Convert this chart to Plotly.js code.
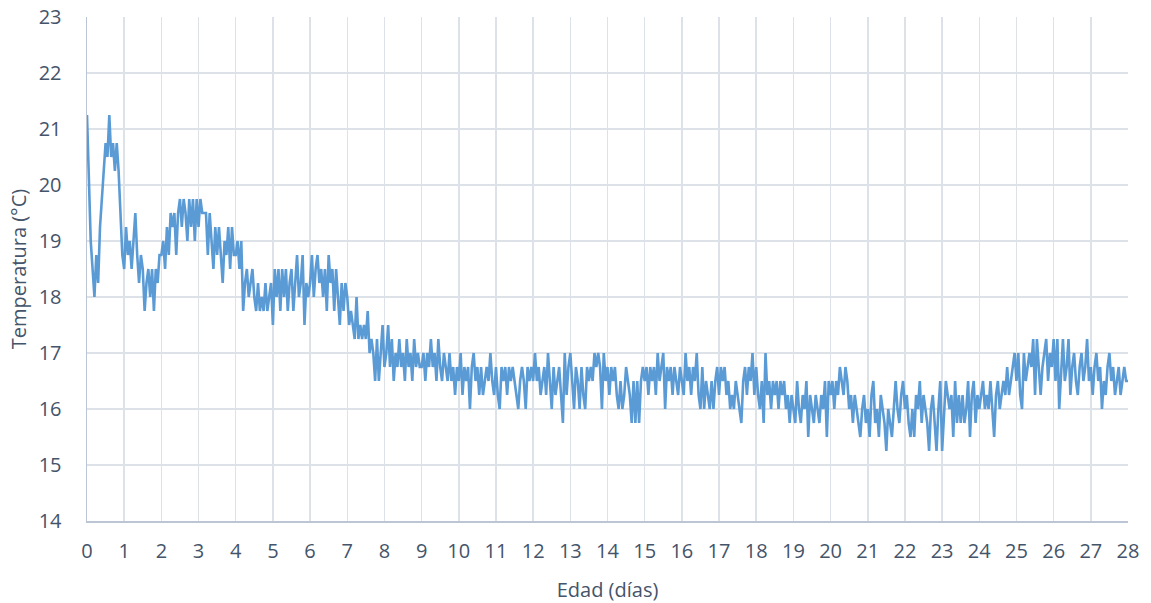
<!DOCTYPE html>
<html>
<head>
<meta charset="utf-8">
<script src="https://cdn.plot.ly/plotly-3.0.1.min.js"></script>
<style>
html,body{margin:0;padding:0;background:#fff;}
#chart{width:1151px;height:603px;}
</style>
</head>
<body>
<div id="chart"></div>
<script>
// Temperature readings (°C), one reading every 0.05 day
const startDay = 0;
const stepDays = 0.05;

const semana1 = [
  // day 0
  21.25,20.0,19.0,18.5,18.0,18.75,18.25,19.25,19.75,20.25,20.75,20.5,21.25,20.5,20.75,20.25,20.75,20.25,19.5,18.75,
  // day 1
  18.5,19.25,18.75,19.0,18.5,19.0,19.5,18.75,18.25,18.75,18.5,17.75,18.25,18.5,18.0,18.5,17.75,18.5,18.25,18.75,
  // day 2
  18.75,19.0,18.5,19.25,18.75,19.5,19.25,19.5,18.75,19.5,19.75,19.25,19.75,19.5,19.0,19.75,19.25,19.75,19.0,19.75,
  // day 3
  19.25,19.75,19.5,19.5,19.5,18.75,19.5,19.0,18.5,19.25,18.75,19.25,18.75,18.25,19.0,18.75,19.25,18.5,19.25,18.75,
  // day 4
  18.75,19.0,18.5,19.0,17.75,18.25,18.5,18.0,18.25,18.5,18.0,17.75,18.25,17.75,18.0,17.75,18.25,17.75,18.0,18.25,
  // day 5
  17.5,18.5,18.0,18.5,17.75,18.5,18.0,18.5,17.75,18.25,18.5,17.75,18.25,18.75,18.0,18.25,18.75,17.5,18.25,18.0,
  // day 6
  18.25,18.75,18.0,18.5,18.75,18.25,18.5,18.0,18.5,17.75,18.75,18.25,18.5,17.75,18.5,18.0,17.5,18.25,17.75,18.25
];
const semana2 = [
  // day 7
  18.0,17.5,17.75,17.5,17.25,18.0,17.25,17.5,17.25,17.5,17.25,17.75,17.0,17.25,17.0,16.5,17.25,16.5,17.0,17.5,
  // day 8
  16.75,17.0,17.5,16.75,17.25,16.5,17.0,16.75,17.25,16.75,17.0,16.5,17.25,16.75,17.0,16.5,17.25,16.75,17.0,16.75,
  // day 9
  16.75,17.0,16.5,17.0,16.75,17.25,16.75,17.0,16.5,17.25,16.75,16.5,17.0,16.75,16.5,17.0,16.5,16.75,16.25,16.75,
  // day 10
  16.5,17.0,16.25,16.75,16.5,16.75,16.0,16.75,17.0,16.5,16.75,16.25,16.75,16.25,16.5,16.75,16.5,17.0,16.5,16.25,
  // day 11
  16.75,16.25,16.0,16.75,16.5,16.75,16.25,16.75,16.5,16.75,16.5,16.25,16.0,16.5,16.75,16.5,16.0,16.75,16.5,16.75,
  // day 12
  16.5,17.0,16.5,16.75,16.25,16.5,16.75,16.25,17.0,16.5,16.0,16.75,16.25,16.5,16.75,16.25,15.75,17.0,16.25,16.75,
  // day 13
  17.0,16.5,16.0,16.75,16.5,16.0,16.75,16.25,16.0,16.75,16.5,16.75,16.5,17.0,16.75,17.0,16.75,16.0,17.0,16.5
];
const semana3 = [
  // day 14
  16.75,16.25,16.75,16.5,16.75,16.25,16.0,16.5,16.0,16.25,16.75,16.5,16.25,15.75,16.5,15.75,16.5,15.75,16.5,16.75,
  // day 15
  16.5,16.75,16.25,16.75,16.5,16.75,16.25,17.0,16.5,16.75,17.0,16.0,16.75,16.5,16.75,16.25,16.75,16.5,16.25,16.75,
  // day 16
  16.5,16.25,17.0,16.5,16.75,16.25,16.75,16.5,17.0,16.25,16.0,16.75,16.0,16.5,16.25,16.0,16.5,16.0,16.5,16.75,
  // day 17
  16.25,16.75,16.5,16.75,16.25,16.5,16.0,16.25,16.0,16.5,16.25,16.0,15.75,16.5,16.75,16.25,16.75,16.5,17.0,16.25,
  // day 18
  16.75,16.25,16.0,16.5,15.75,17.0,16.25,16.5,16.0,16.5,16.25,16.5,16.0,16.5,16.25,16.5,16.0,16.25,15.75,16.25,
  // day 19
  16.0,15.75,16.5,16.0,15.75,16.25,16.0,16.5,15.5,16.25,16.0,15.75,16.25,16.0,15.75,16.25,16.0,16.5,15.5,16.5,
  // day 20
  16.25,16.5,16.0,16.5,16.25,16.75,16.5,16.25,16.75,16.5,16.0,16.25,15.75,16.25,16.0,15.75,15.5,16.0,16.25,15.75
];
const semana4 = [
  // day 21
  16.0,15.5,16.25,16.5,15.75,16.0,15.5,16.25,16.0,15.75,15.25,16.0,15.75,15.5,16.0,16.5,16.0,15.75,16.25,16.5,
  // day 22
  16.0,16.25,15.75,15.5,16.0,15.5,16.25,16.0,16.5,15.75,16.25,16.0,15.75,15.25,16.0,16.25,15.75,15.25,16.0,16.5,
  // day 23
  15.25,16.0,16.5,16.25,16.0,16.25,15.5,16.5,15.75,16.25,15.75,16.25,15.75,16.0,16.5,15.5,16.25,16.5,15.75,16.25,
  // day 24
  16.0,16.25,16.5,16.0,16.25,16.0,16.5,16.0,15.5,16.25,16.5,16.0,16.25,16.5,16.25,16.75,16.25,16.5,16.75,17.0,
  // day 25
  16.5,17.0,16.25,16.0,17.0,16.5,16.75,17.0,16.75,17.25,16.25,17.25,16.75,16.25,16.75,17.0,17.25,16.5,17.0,16.75,
  // day 26
  17.25,16.5,17.25,16.0,16.75,17.25,16.5,16.75,17.25,16.25,16.75,17.0,16.5,16.25,16.75,17.0,16.5,16.75,17.25,16.5,
  // day 27
  16.75,16.25,16.75,17.0,16.5,16.75,16.0,16.5,16.25,16.75,17.0,16.5,16.75,16.25,16.5,16.75,16.25,16.5,16.75,16.5,
  // day 28
  16.5
];

const xTicks = [0,1,2,3,4,5,6,7,8,9,10,11,12,13,14,15,16,17,18,19,20,21,22,23,24,25,26,27,28];
const yTicks = [14,15,16,17,18,19,20,21,22,23];

const temperatura = semana1.concat(semana2, semana3, semana4);
const edad = temperatura.map((_, i) => +(startDay + i * stepDays).toFixed(4));

const textColor = '#44546A';
const fontFam = '"Open Sans", "Noto Sans", sans-serif';

const trace = {
  x: edad,
  y: temperatura,
  type: 'scatter',
  mode: 'lines',
  line: {color: '#5B9BD5', width: 2.6},
  hoverinfo: 'x+y'
};

const layout = {
  width: 1151,
  height: 603,
  paper_bgcolor: '#ffffff',
  plot_bgcolor: '#ffffff',
  showlegend: false,
  margin: {l: 87, r: 23, t: 17, b: 82},
  font: {family: fontFam, color: textColor, size: 20},
  xaxis: {
    range: [0, 28],
    tickmode: 'array',
    tickvals: xTicks,
    ticktext: xTicks.map(String),
    showgrid: true,
    gridcolor: '#DDE1E8',
    gridwidth: 1.5,
    showline: true,
    linecolor: '#BCC5D3',
    linewidth: 1.5,
    zeroline: false,
    ticks: '',
    ticklabelstandoff: 11,
    tickfont: {family: fontFam, size: 20, color: textColor},
    title: {text: 'Edad (días)', font: {family: fontFam, size: 20, color: textColor}, standoff: 20},
    fixedrange: true
  },
  yaxis: {
    range: [14, 23],
    tickmode: 'array',
    tickvals: yTicks,
    ticktext: yTicks.map(String),
    showgrid: true,
    gridcolor: '#DDE1E8',
    gridwidth: 1.5,
    showline: true,
    linecolor: '#BCC5D3',
    linewidth: 1.5,
    zeroline: false,
    ticks: '',
    ticklabelstandoff: 20,
    tickfont: {family: fontFam, size: 20, color: textColor},
    title: {text: 'Temperatura (°C)', font: {family: fontFam, size: 20, color: textColor}, standoff: 6},
    fixedrange: true
  }
};

Plotly.newPlot('chart', [trace], layout, {displayModeBar: false, staticPlot: true});
</script>
</body>
</html>
